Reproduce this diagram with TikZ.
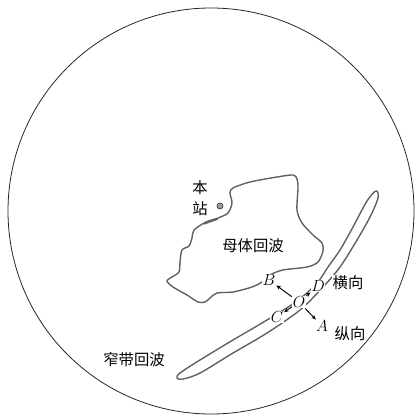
\documentclass[tikz,border=0pt]{standalone}
\usepackage{fontspec}
\newfontfamily\cjk{Noto Sans CJK SC}
\usetikzlibrary{arrows.meta}
\begin{document}
\begin{tikzpicture}[x=0.75pt, y=-0.75pt, >={Stealth[length=3.4pt,width=2.8pt]},
    echo/.style={line width=1.05pt, black!62, line join=round},
    lbl/.style={fill=white, inner sep=0.5pt, font=\fontsize{12.5}{13}\selectfont},
    cn/.style={fill=white, inner sep=0.5pt, font=\cjk\fontsize{11.5}{13}\selectfont}]
    \useasboundingbox (0,0) rectangle (415,417);

    % Scope edge
    \draw[line width=0.6pt, black!85] (211,211) circle (152.25pt);

    % Parent echo (closed outline)
    \draw[echo] plot[smooth cycle, tension=0.5] coordinates {
        (233,188) (250,182) (277,177) (293,175) (297,179) (298,188)
        (297,210) (302,223) (313,235) (322,243) (323,251) (318,262)
        (307,267) (283,270) (270,275) (262,282) (252,287) (233,292)
        (217,293) (210,298) (205,302) (198,302) (187,295) (173,287)
        (167,281) (172,277) (179,272) (180,262) (182,250) (189,246)
        (192,238) (194,230) (206,222) (218,218) (228,213) (232,203)
        (230,193)};
    \draw[echo] (204,224) -- (218,219);

    % Narrow band echo
    \draw[echo] plot[smooth cycle, tension=0.55] coordinates {
        (376,191) (367,201) (353,227) (340,250) (328,267) (317,283)
        (297,301) (267,320) (233,340) (200,360) (180,373) (177,378)
        (183,379) (200,373) (233,353) (267,333) (300,310) (323,287)
        (340,267) (357,240) (370,217) (378,198)};

    % Station
    \filldraw[fill=black!40, draw=black!75, line width=0.5pt] (220,206) circle (2.3pt);
    \node[cn] (ben) at (200,188) {本};
    \node[cn] (zhan) at (200,209) {站};

    % Echo names
    \node[cn] (mu) at (253,246) {母体回波};
    \node[cn] (zhai) at (134,360) {窄带回波};

    % Directions at O
    \node[lbl] (o) at (299,302) {$O$};
    \node[lbl] (a) at (322,326) {$A$};
    \node[lbl] (b) at (269,280) {$B$};
    \node[lbl] (c) at (277,317) {$C$};
    \node[lbl] (d) at (318,286) {$D$};
    \draw[->, line width=0.7pt] (o) -- (a);
    \draw[->, line width=0.7pt] (o) -- (b);
    \draw[->, line width=0.7pt] (o) -- (c);
    \draw[->, line width=0.7pt] (o) -- (d);
    \node[cn] (heng) at (348,283) {横向};
    \node[cn] (zong) at (350,334) {纵向};
\end{tikzpicture}
\end{document}
